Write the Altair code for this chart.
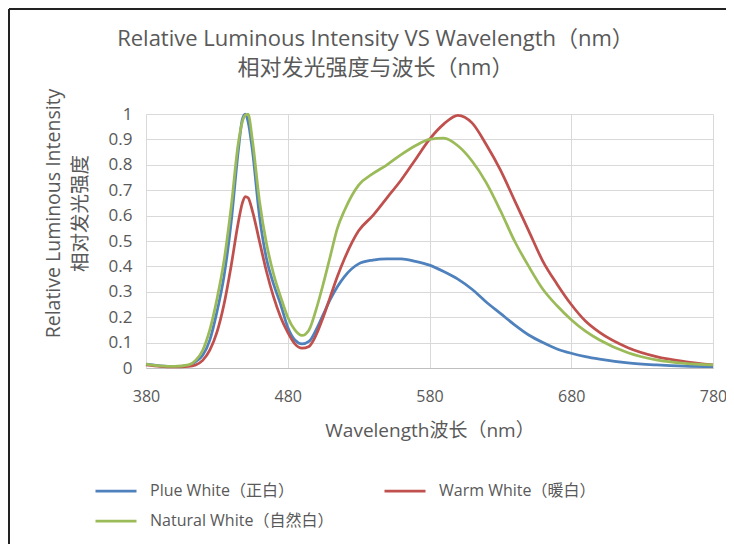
import altair as alt
import pandas as pd

wavelength = [380, 390, 400, 410, 415, 420, 425, 430, 435, 440, 445, 448, 450, 452, 455,
              460, 465, 470, 475, 480, 485, 490, 495, 500, 505, 510, 515, 520, 530, 540,
              550, 560, 570, 580, 590, 600, 610, 620, 630, 640, 650, 660, 670, 680, 690,
              700, 720, 740, 760, 780]

plue_white = [0.015, 0.008, 0.005, 0.01, 0.025, 0.05, 0.11, 0.22, 0.36, 0.57, 0.85, 0.98, 1.0, 0.97, 0.86,
              0.6, 0.43, 0.33, 0.25, 0.16, 0.11, 0.095, 0.105, 0.15, 0.21, 0.27, 0.32, 0.36, 0.41, 0.425,
              0.43, 0.43, 0.42, 0.405, 0.38, 0.35, 0.31, 0.26, 0.215, 0.17, 0.13, 0.1, 0.075, 0.058, 0.045,
              0.035, 0.02, 0.012, 0.007, 0.005]

warm_white = [0.012, 0.006, 0.004, 0.006, 0.012, 0.03, 0.07, 0.14, 0.25, 0.4, 0.57, 0.65, 0.675, 0.67, 0.62,
              0.5, 0.38, 0.28, 0.2, 0.14, 0.095, 0.078, 0.085, 0.13, 0.2, 0.28, 0.36, 0.43, 0.54, 0.6,
              0.67, 0.74, 0.82, 0.9, 0.96, 0.995, 0.965, 0.88, 0.78, 0.66, 0.54, 0.42, 0.33, 0.25, 0.185,
              0.14, 0.08, 0.045, 0.025, 0.012]

natural_white = [0.015, 0.008, 0.006, 0.012, 0.03, 0.07, 0.15, 0.27, 0.42, 0.63, 0.88, 0.97, 0.995, 1.0, 0.9,
                 0.66, 0.49, 0.37, 0.28, 0.2, 0.15, 0.128, 0.15, 0.23, 0.33, 0.44, 0.55, 0.62, 0.72, 0.765,
                 0.8, 0.84, 0.875, 0.9, 0.905, 0.875, 0.815, 0.73, 0.62, 0.5, 0.4, 0.31, 0.245, 0.19, 0.145,
                 0.11, 0.06, 0.032, 0.018, 0.012]

series_names = ["Plue White（正白）", "Warm White（暖白）", "Natural White（自然白）"]
series_colors = ["#4F81BD", "#C0504D", "#9BBB59"]
# legend grid fills column by column: this order puts Plue / Warm on row 1, Natural on row 2
legend_order = ["Plue White（正白）", "Natural White（自然白）", "Warm White（暖白）"]
legend_colors = ["#4F81BD", "#9BBB59", "#C0504D"]
x_ticks = [380, 480, 580, 680, 780]
y_ticks = [0, 0.1, 0.2, 0.3, 0.4, 0.5, 0.6, 0.7, 0.8, 0.9, 1]

rows = []
for name, vals in zip(series_names, [plue_white, warm_white, natural_white]):
    for w, v in zip(wavelength, vals):
        rows.append({"wavelength": w, "intensity": v, "series": name})
df = pd.DataFrame(rows)

FONT = "'Open Sans', 'Noto Sans CJK SC', sans-serif"
GRAY = "#595959"

lines = alt.Chart(df).mark_line(strokeWidth=2.75, interpolate="monotone").encode(
    x=alt.X("wavelength:Q",
            scale=alt.Scale(domain=[380, 780], nice=False),
            axis=alt.Axis(values=x_ticks, grid=True, gridColor="#D9D9D9", ticks=False,
                          domainColor="#BFBFBF", labelPadding=20, labelFontSize=16,
                          labelColor=GRAY, labelFont=FONT, labelFlush=False,
                          title="Wavelength波长（nm）", titleFontSize=19, titleFont=FONT,
                          titleColor=GRAY, titleFontWeight="normal",
                          titleY=62, titleBaseline="middle")),
    y=alt.Y("intensity:Q",
            scale=alt.Scale(domain=[0, 1], nice=False),
            axis=alt.Axis(values=y_ticks, format="~g", grid=True, gridColor="#D9D9D9",
                          ticks=False, domain=False, labelPadding=14, labelFontSize=17,
                          labelColor=GRAY, labelFont=FONT,
                          title=["Relative Luminous Intensity", "相对发光强度"],
                          titleFontSize=19.5, titleFont=FONT, titleColor=GRAY,
                          titleFontWeight="normal", titleLineHeight=27,
                          titleX=-83, titleY=99, titleAngle=270, titleAlign="center",
                          titleBaseline="bottom")),
    color=alt.Color("series:N",
                    scale=alt.Scale(domain=legend_order, range=legend_colors),
                    sort=legend_order,
                    legend=alt.Legend(title=None, orient="none", legendX=-52, legendY=355,
                                      columns=2, columnPadding=45, rowPadding=0,
                                      symbolType="stroke", symbolSize=1681,
                                      symbolStrokeWidth=2.75, labelFontSize=16,
                                      labelFont=FONT, labelColor=GRAY, labelLimit=400,
                                      labelOffset=12)),
)

border_df = pd.DataFrame({"a": [0]})
top_border = alt.Chart(border_df).mark_rule(color="#222222", strokeWidth=2).encode(
    x=alt.value(-137), x2=alt.value(600), y=alt.value(-105))
left_border = alt.Chart(border_df).mark_rule(color="#222222", strokeWidth=2).encode(
    x=alt.value(-137), y=alt.value(-105), y2=alt.value(450))

chart = alt.layer(lines, top_border, left_border).properties(
    width=567, height=254,
    autosize=alt.AutoSizeParams(type="none"),
    padding={"left": 138, "top": 106, "right": 13, "bottom": 176},
    title=alt.TitleParams(
        text=["Relative Luminous Intensity VS Wavelength（nm）", "相对发光强度与波长（nm）"],
        font=FONT, fontSize=22, fontWeight="normal", color=GRAY,
        anchor="middle", dx=-54, dy=72, offset=0, lineHeight=29),
).configure_view(stroke=None)

chart.save("out.html", embed_options={"renderer": "svg", "actions": False})
